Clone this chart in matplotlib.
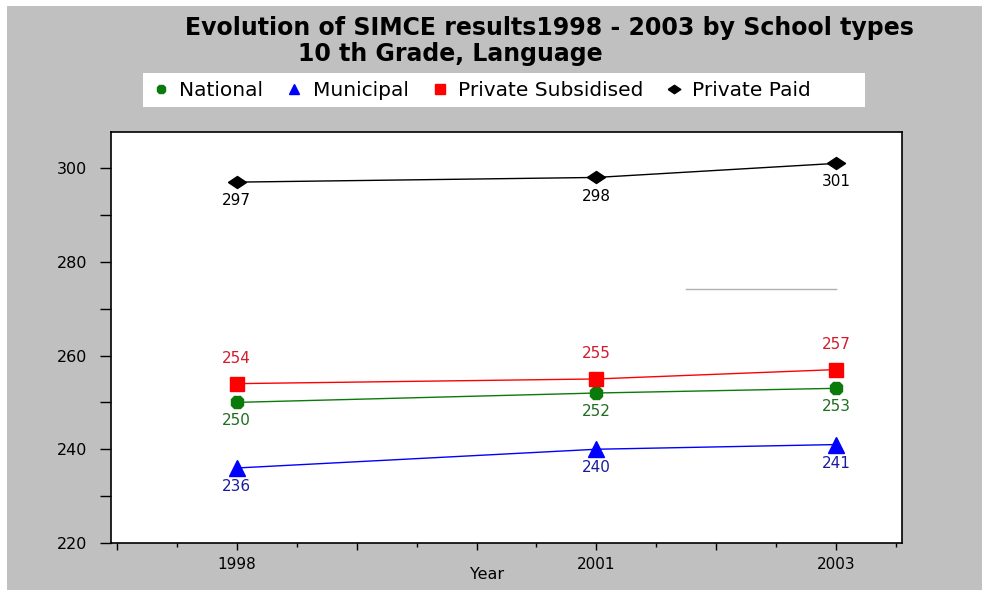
import matplotlib.pyplot as plt
from matplotlib.patches import Rectangle
from matplotlib.lines import Line2D

years = [1998, 2001, 2003]
national = [250, 252, 253]
municipal = [236, 240, 241]
private_subsidised = [254, 255, 257]
private_paid = [297, 298, 301]

year_ticks = [1997, 1998, 1999, 2000, 2001, 2002, 2003]
year_labels = ['', '1998', '', '', '2001', '', '2003']
score_ticks = [220, 240, 260, 280, 300]

# faint stray line seen in the original picture
stray_x = [2001.75, 2003.0]
stray_y = [274.2, 274.2]

plt.rcParams['font.family'] = ['DejaVu Sans']

fig = plt.figure(figsize=(9.82, 5.9), dpi=100)
fig.patch.set_facecolor('white')
fig.patches.append(Rectangle((7/982, 0), 1, 1 - 6/590, transform=fig.transFigure,
                             facecolor='#c0c0c0', edgecolor='none', zorder=-10))
# white legend band
fig.patches.append(Rectangle((143/982, 1 - 107/590), 722/982, 34/590, transform=fig.transFigure,
                             facecolor='white', edgecolor='none', zorder=-5))

ax = fig.add_axes([0.113, 0.0797, 0.8055, 0.6966])
ax.set_facecolor('white')

wide_diamond = [(-1.5, 0), (0, 1), (1.5, 0), (0, -1), (-1.5, 0)]

series = [
    ('National', national, '#0a7a0a', '#1f6e1f', '8', 9.5, 'below'),
    ('Municipal', municipal, '#0000ff', '#1a1aa0', '^', 11, 'below'),
    ('Private Subsidised', private_subsidised, '#ff0000', '#d01c2c', 's', 10, 'above'),
    ('Private Paid', private_paid, '#000000', '#000000', wide_diamond, 13, 'below'),
]

for name, vals, col, tcol, mk, ms, pos in series:
    ax.plot(years, vals, color=col, lw=1, marker=mk, ms=ms, mec=col, mfc=col)
    for x, v in zip(years, vals):
        if pos == 'below':
            ax.annotate(str(v), (x, v), xytext=(0, -8), textcoords='offset points',
                        ha='center', va='top', color=tcol, fontsize=11)
        else:
            ax.annotate(str(v), (x, v), xytext=(0, 13), textcoords='offset points',
                        ha='center', va='bottom', color=tcol, fontsize=11)

ax.plot(stray_x, stray_y, color='#b0b0b0', lw=1)

ax.set_xlim(1996.95, 2003.55)
ax.set_ylim(220, 307.7)
ax.set_xticks(year_ticks)
ax.set_xticklabels(year_labels)
ax.set_xticks([y + 0.5 for y in year_ticks], minor=True)
ax.set_yticks(score_ticks)
ax.set_yticks([230, 250, 270, 290], minor=True)
ax.tick_params(axis='x', which='major', length=5, width=1, pad=5, labelsize=11)
ax.tick_params(axis='x', which='minor', length=3, width=1)
ax.tick_params(axis='y', which='both', length=8, width=1, pad=9, labelsize=11.5)
for sp in ax.spines.values():
    sp.set_linewidth(1.2)

ax.set_xlabel('Year', fontsize=11.5)
ax.xaxis.set_label_coords(0.475, -0.058)

fig.text(0.559, 0.953, 'Evolution of SIMCE results1998 - 2003 by School types',
         ha='center', va='center', fontsize=17, fontweight='bold')
fig.text(0.303, 0.909, '10 th Grade, Language', ha='left', va='center',
         fontsize=17, fontweight='bold')

handles = [Line2D([], [], ls='none', marker=mk, color=col, ms=ms * 0.7)
           for name, vals, col, tcol, mk, ms, pos in series]
leg = fig.legend(handles, [s[0] for s in series], loc='center',
                 bbox_to_anchor=(0.492, 0.847), ncol=4, frameon=False,
                 handlelength=0.6, handletextpad=0.6, columnspacing=1.25,
                 prop={'size': 14.5}, borderpad=0.2)

fig.savefig('out.png', dpi=100, facecolor=fig.get_facecolor())
